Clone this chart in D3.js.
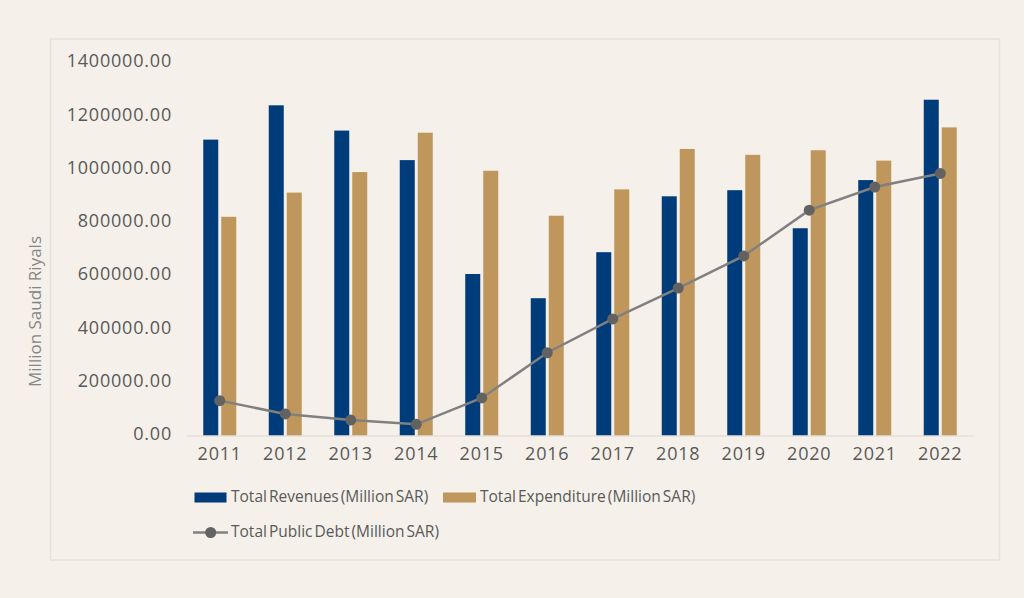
<!DOCTYPE html>
<html>
<head>
<meta charset="utf-8">
<script src="https://cdn.jsdelivr.net/npm/d3@7"></script>
<style>
  html, body { margin: 0; padding: 0; background: #f5f1ea; }
  svg { display: block; }
  text { font-family: "Open Sans", sans-serif; }
</style>
</head>
<body>
<svg id="chart" width="1024" height="598"></svg>
<script>
const years = ["2011","2012","2013","2014","2015","2016","2017","2018","2019","2020","2021","2022"];
const revenues = [1112000, 1241000, 1146000, 1035000, 607000, 516000, 689000, 899000, 922000, 779000, 960000, 1262000];
const expenditure = [822000, 913000, 990000, 1138000, 995000, 826000, 925000, 1077000, 1055000, 1072000, 1033000, 1158000];
const publicDebt = [131000, 81000, 58000, 42000, 141000, 311000, 438000, 554000, 675000, 847000, 934000, 985000];
const yTicks = [0, 200000, 400000, 600000, 800000, 1000000, 1200000, 1400000];
const seriesNames = ["Total Revenues (Million SAR)", "Total Expenditure (Million SAR)", "Total Public Debt (Million SAR)"];
const yTitle = "Million Saudi Riyals";

const colors = { rev: "#003b7a", exp: "#bf965b", line: "#808080", marker: "#626262" };

const svg = d3.select("#chart");

// frame
svg.append("rect").attr("x", 50.5).attr("y", 39).attr("width", 949).attr("height", 521)
  .attr("fill", "#f5f1ea").attr("stroke", "#e6e2da").attr("stroke-width", 1.5);

const x = d3.scaleBand().domain(years).range([187, 973]).paddingInner(0).paddingOuter(0);
const inner = d3.scaleBand().domain(["rev","exp"]).range([0, 33]).paddingInner(3/18);
const y = d3.scaleLinear().domain([0, 1400000]).range([435.5, 63]);

// y axis labels
const yAxis = d3.axisLeft(y).tickValues(yTicks).tickSize(0).tickPadding(0).tickFormat(d3.format(".2f"));
const gy = svg.append("g").attr("transform", "translate(172,0)").call(yAxis);
gy.select(".domain").remove();
gy.selectAll("text").attr("fill", "#595959").style("font-size", "18px").style("letter-spacing", "0.8px")
  .style("font-family", "'Open Sans', sans-serif").attr("dy", "0.33em").attr("y", -2);

// bars
const groups = svg.append("g").selectAll("g").data(years).join("g")
  .attr("transform", d => `translate(${x(d) + x.bandwidth()/2 - 16.5},0)`);
groups.append("rect").attr("x", inner("rev")).attr("width", inner.bandwidth())
  .attr("y", (d, i) => y(revenues[i])).attr("height", (d, i) => y(0) - y(revenues[i]))
  .attr("fill", colors.rev);
groups.append("rect").attr("x", inner("exp")).attr("width", inner.bandwidth())
  .attr("y", (d, i) => y(expenditure[i])).attr("height", (d, i) => y(0) - y(expenditure[i]))
  .attr("fill", colors.exp);

// x axis
const xAxis = d3.axisBottom(x).tickSize(0).tickPadding(0);
const gx = svg.append("g").attr("transform", `translate(0,${y(0)})`).call(xAxis);
gx.select(".domain").attr("stroke", "#dcd8d0").attr("stroke-width", 1.2);
gx.selectAll("text").attr("fill", "#595959").style("font-size", "18px").style("letter-spacing", "0.8px")
  .style("font-family", "'Open Sans', sans-serif").attr("y", 18).attr("dy", "0.35em");

// debt line
const cx = d => x(d) + x.bandwidth()/2;
const line = d3.line().x((d, i) => cx(years[i])).y(d => y(d));
svg.append("path").datum(publicDebt).attr("d", line).attr("fill", "none")
  .attr("stroke", colors.line).attr("stroke-width", 2.5);
svg.append("g").selectAll("circle").data(publicDebt).join("circle")
  .attr("cx", (d, i) => cx(years[i])).attr("cy", d => y(d)).attr("r", 5.5).attr("fill", colors.marker);

// y title
svg.append("text").attr("transform", "translate(35.5,311.5) rotate(-90)")
  .attr("text-anchor", "middle").attr("dy", "0.35em")
  .attr("fill", "#858585").style("font-size", "17px").text(yTitle);

// legend
const legStyle = sel => sel.attr("dy", "0.35em").attr("fill", "#595959")
  .style("font-size", "15.5px").style("word-spacing", "-2px");
const leg = svg.append("g");
leg.append("rect").attr("x", 194.5).attr("y", 492.5).attr("width", 32).attr("height", 10).attr("fill", colors.rev);
leg.append("text").attr("x", 231).attr("y", 497).call(legStyle).text(seriesNames[0]);
leg.append("rect").attr("x", 443).attr("y", 492.5).attr("width", 33).attr("height", 10).attr("fill", colors.exp);
leg.append("text").attr("x", 480).attr("y", 497).call(legStyle).text(seriesNames[1]);
leg.append("line").attr("x1", 193).attr("x2", 228).attr("y1", 532.5).attr("y2", 532.5)
  .attr("stroke", colors.line).attr("stroke-width", 2.5);
leg.append("circle").attr("cx", 210.7).attr("cy", 532.5).attr("r", 5.5).attr("fill", colors.marker);
leg.append("text").attr("x", 231).attr("y", 532).call(legStyle).text(seriesNames[2]);
</script>
</body>
</html>
